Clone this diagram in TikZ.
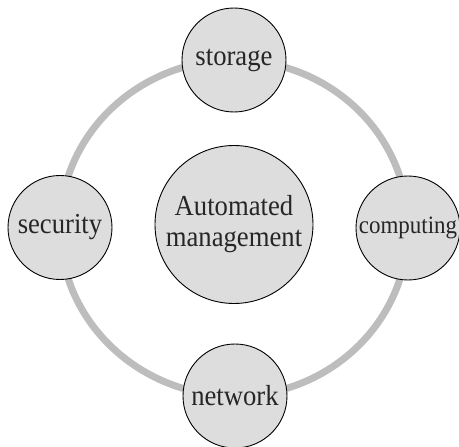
\documentclass[tikz,border=0pt]{standalone}
\usepackage{fontspec}
\setmainfont{Liberation Serif}[FakeStretch=0.92]
\usetikzlibrary{backgrounds}
\tikzset{hubbox/.style={draw, circle, fill=gray!27, line width=0.9pt, minimum size=158pt, inner sep=0pt, text=black!85, align=center, font=\fontsize{29}{31}\selectfont}}
\tikzset{partbox/.style={draw, circle, fill=gray!27, line width=0.9pt, minimum size=104pt, inner sep=0pt, text=black!85, font=\fontsize{29}{31}\selectfont}}
\tikzset{ringline/.style={draw=gray!52, line width=7pt}}
\begin{document}
\begin{tikzpicture}[x=1pt, y=-1pt]
\useasboundingbox (0,0) rectangle (459,447);

\node[hubbox] (hub) at (234, 224.5) {Automated\\management};

\node[partbox] (storage) at (234, 60) {storage};
\node[partbox] (computing) at (408, 228) {\fontsize{25}{27}\selectfont computing};
\node[partbox] (network) at (235, 396) {network};
\node[partbox] (security) at (60, 227.5) {security};

\begin{scope}[on background layer]
\draw[ringline] (storage.center) to[out=0, in=90] (computing.center);
\draw[ringline] (computing.center) to[out=-90, in=0] (network.center);
\draw[ringline] (network.center) to[out=180, in=-90] (security.center);
\draw[ringline] (security.center) to[out=90, in=180] (storage.center);
\end{scope}

\end{tikzpicture}
\end{document}
